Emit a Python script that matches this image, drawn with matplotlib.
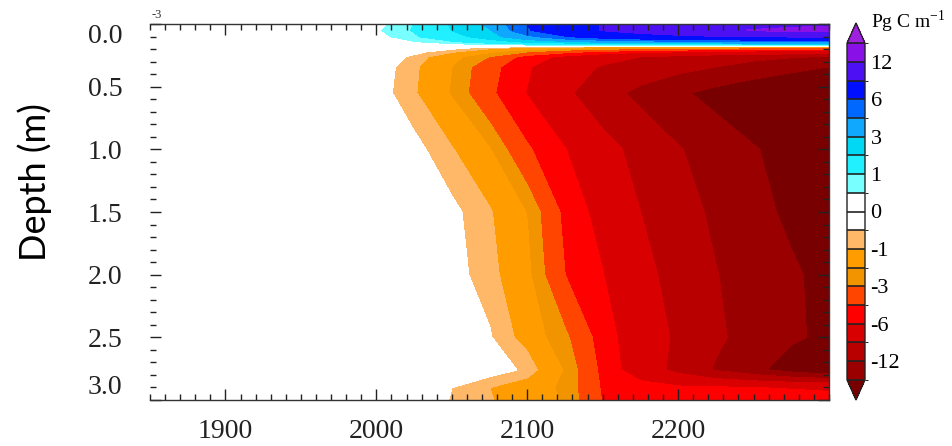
import numpy as np
import matplotlib
matplotlib.use("Agg")
import matplotlib.pyplot as plt
from matplotlib.colors import ListedColormap, BoundaryNorm
from matplotlib.ticker import MultipleLocator, FixedLocator

plt.rcParams['axes.unicode_minus'] = False
plt.rcParams['mathtext.fontset'] = 'custom'
plt.rcParams['mathtext.rm'] = 'Liberation Serif'

# ---- data ----
years = [1850, 2000, 2025, 2050, 2075, 2100, 2125, 2150, 2175, 2200, 2225, 2250, 2275, 2300]
depths = [0.0, 0.05, 0.10, 0.14, 0.17, 0.19, 0.22, 0.26, 0.34, 0.55, 1.0, 1.5, 2.0, 2.5, 2.76, 2.9, 3.0]

d000 = [0, 0.25, 1.0, 2.1, 3.3, 6.0, 8.0, 9.1, 9.8, 10.3, 10.7, 11.0, 11.3, 11.5]
d005 = [0, 0.4, 1.05, 2.0, 2.85, 5.8, 7.6, 9.1, 10.0, 10.8, 11.5, 12.1, 12.5, 12.8]
d010 = [0, 0.25, 0.9, 1.6, 2.5, 4.0, 5.8, 7.0, 7.8, 8.4, 8.8, 9.0, 9.2, 9.3]
d014 = [0, 0.0, 0.45, 0.9, 1.5, 2.2, 2.8, 3.3, 3.7, 4.0, 4.2, 4.4, 4.5, 4.6]
d017 = [0, 0, 0.05, 0.1, 0.15, 0.2, 0.25, 0.3, 0.3, 0.3, 0.3, 0.3, 0.3, 0.3]
d019 = [0, 0, -0.05, -0.3, -0.8, -1.3, -1.8, -2.2, -2.5, -2.8, -3.0, -3.2, -3.4, -3.5]
d022 = [0, 0, -0.3, -0.9, -1.8, -3.0, -4.0, -4.9, -5.5, -6.0, -6.4, -6.8, -7.1, -7.4]
d026 = [0, 0, -0.65, -1.6, -3.05, -5.1, -6.5, -7.8, -9.0, -9.9, -10.7, -11.3, -11.8, -12.2]
d034 = [0, -0.15, -0.85, -2.0, -3.95, -5.8, -7.5, -9.3, -10.2, -11.1, -12.0, -13.0, -14.0, -15.0]
d055 = [0, -0.2, -0.92, -2.1, -4.2, -6.1, -8.5, -10.8, -12.8, -14.5, -16.0, -17.3, -18.5, -19.5]
d100 = [0, 0, -0.3, -0.95, -1.95, -4.3, -5.95, -8.0, -9.95, -11.8, -13.3, -14.8, -16.1, -17.3]
d150 = [0, 0, -0.1, -0.35, -0.92, -2.05, -4.9, -6.7, -9.0, -10.8, -12.55, -14.1, -15.6, -17.0]
d200 = [0, 0, -0.05, -0.3, -0.75, -1.75, -4.5, -5.95, -8.1, -10.1, -11.9, -13.3, -14.6, -15.9]
d250 = [0, 0, -0.05, -0.15, -0.45, -1.3, -2.75, -5.2, -7.3, -9.5, -11.5, -13.2, -14.6, -15.6]
d276 = [0, 0, -0.05, -0.1, -0.2, -0.62, -2.1, -4.9, -7.2, -9.9, -12.3, -14.3, -16.4, -18.0]
d290 = [0, -0.1, -0.3, -0.5, -1.0, -1.5, -2.2, -4.7, -5.3, -5.7, -5.9, -6.0, -6.1, -6.2]
d300 = [0, -0.1, -0.3, -0.52, -0.95, -1.4, -2.1, -4.6, -5.0, -5.2, -5.3, -5.4, -5.5, -5.6]

levels = [-15, -12, -9, -6, -4.5, -3, -2, -1, -0.5, 0, 0.5, 1, 2, 3, 4.5, 6, 9, 12, 15]
cbar_ticks = [12, 6, 3, 1, 0, -1, -3, -6, -12]
cbar_labels = ['12', '6', '3', '1', '0', '-1', '-3', '-6', '-12']
x_ticks = [1900, 2000, 2100, 2200]
x_labels = ['1900', '2000', '2100', '2200']
y_ticks = [0.0, 0.5, 1.0, 1.5, 2.0, 2.5, 3.0]
y_labels = ['0.0', '0.5', '1.0', '1.5', '2.0', '2.5', '3.0']

# ---- colours ----
body_colors = ['#9a0000', '#b80000', '#d80000', '#ff0000', '#ff4500', '#f29300',
               '#ff9c00', '#ffb868', '#ffffff', '#ffffff', '#78ffff', '#20f0ff',
               '#00d8f4', '#10a8ff', '#0068ff', '#0010ff', '#4c10f2', '#8a10e8']
cmap = ListedColormap(body_colors)
cmap.set_under('#780000')
cmap.set_over('#a020e0')
norm = BoundaryNorm(levels, cmap.N)

Z = np.array([d000, d005, d010, d014, d017, d019, d022, d026, d034, d055,
              d100, d150, d200, d250, d276, d290, d300])

W, H = 953, 446
fig = plt.figure(figsize=(W / 100, H / 100), dpi=100)
ax = fig.add_axes([150 / W, 1 - 400 / H, 679 / W, 376 / H])

cs = ax.contourf(years, depths, Z, levels=levels, cmap=cmap, norm=norm, extend='both')
cs.set_edgecolor('face')
cs.set_linewidth(0.4)

ax.set_xlim(1850, 2300)
ax.set_ylim(3.0, 0.0)
ax.xaxis.set_major_locator(FixedLocator(x_ticks))
ax.set_xticklabels(x_labels)
ax.xaxis.set_minor_locator(MultipleLocator(10))
ax.yaxis.set_major_locator(FixedLocator(y_ticks))
ax.set_yticklabels(y_labels)
ax.yaxis.set_minor_locator(MultipleLocator(0.1))

ax.tick_params(which='both', direction='in', top=True, right=True, left=True, bottom=True,
               colors='#222222', width=1.0)
ax.tick_params(which='major', length=8)
ax.tick_params(which='minor', length=4)
ax.tick_params(axis='x', which='major', pad=14)
ax.tick_params(axis='y', which='major', pad=20)
for lab in ax.get_xticklabels() + ax.get_yticklabels():
    lab.set_fontfamily('Liberation Serif')
    lab.set_fontsize(20)
ylabs = ax.get_yticklabels()
ylabs[0].set_va('top')
ylabs[-1].set_va('bottom')

ax.spines['left'].set_visible(False)
for s in ['top', 'bottom', 'right']:
    ax.spines[s].set_linewidth(1.0)
    ax.spines[s].set_color('#333333')

fig.text(35 / W, 1 - 182 / H, 'Depth (m)', rotation=90, fontsize=26,
         family='Lato', va='center', ha='center')
fig.text(152 / W, 1 - 15 / H, '-3', fontsize=9, family='Liberation Serif',
         va='center', ha='left', color='#333333')

# ---- colour bar (axes spans triangles too) ----
cax = fig.add_axes([847 / W, 1 - 400 / H, 18 / W, 377 / H])
cb = fig.colorbar(cs, cax=cax, extendfrac=0.06, drawedges=True, ticks=cbar_ticks)
cb.set_ticklabels(cbar_labels)
cb.ax.tick_params(length=0, pad=4)
for lab in cb.ax.get_yticklabels():
    lab.set_fontfamily('Liberation Serif')
    lab.set_fontsize(16)
cb.dividers.set_color('#222222')
cb.dividers.set_linewidth(1.2)
cb.outline.set_linewidth(1.0)
cb.outline.set_edgecolor('#222222')

fig.text(871 / W, 1 - 22 / H, r'Pg C m$^{\mathregular{-1}}$', fontsize=14,
         family='Liberation Serif', va='center', ha='left')

fig.savefig('out.png', dpi=100)
